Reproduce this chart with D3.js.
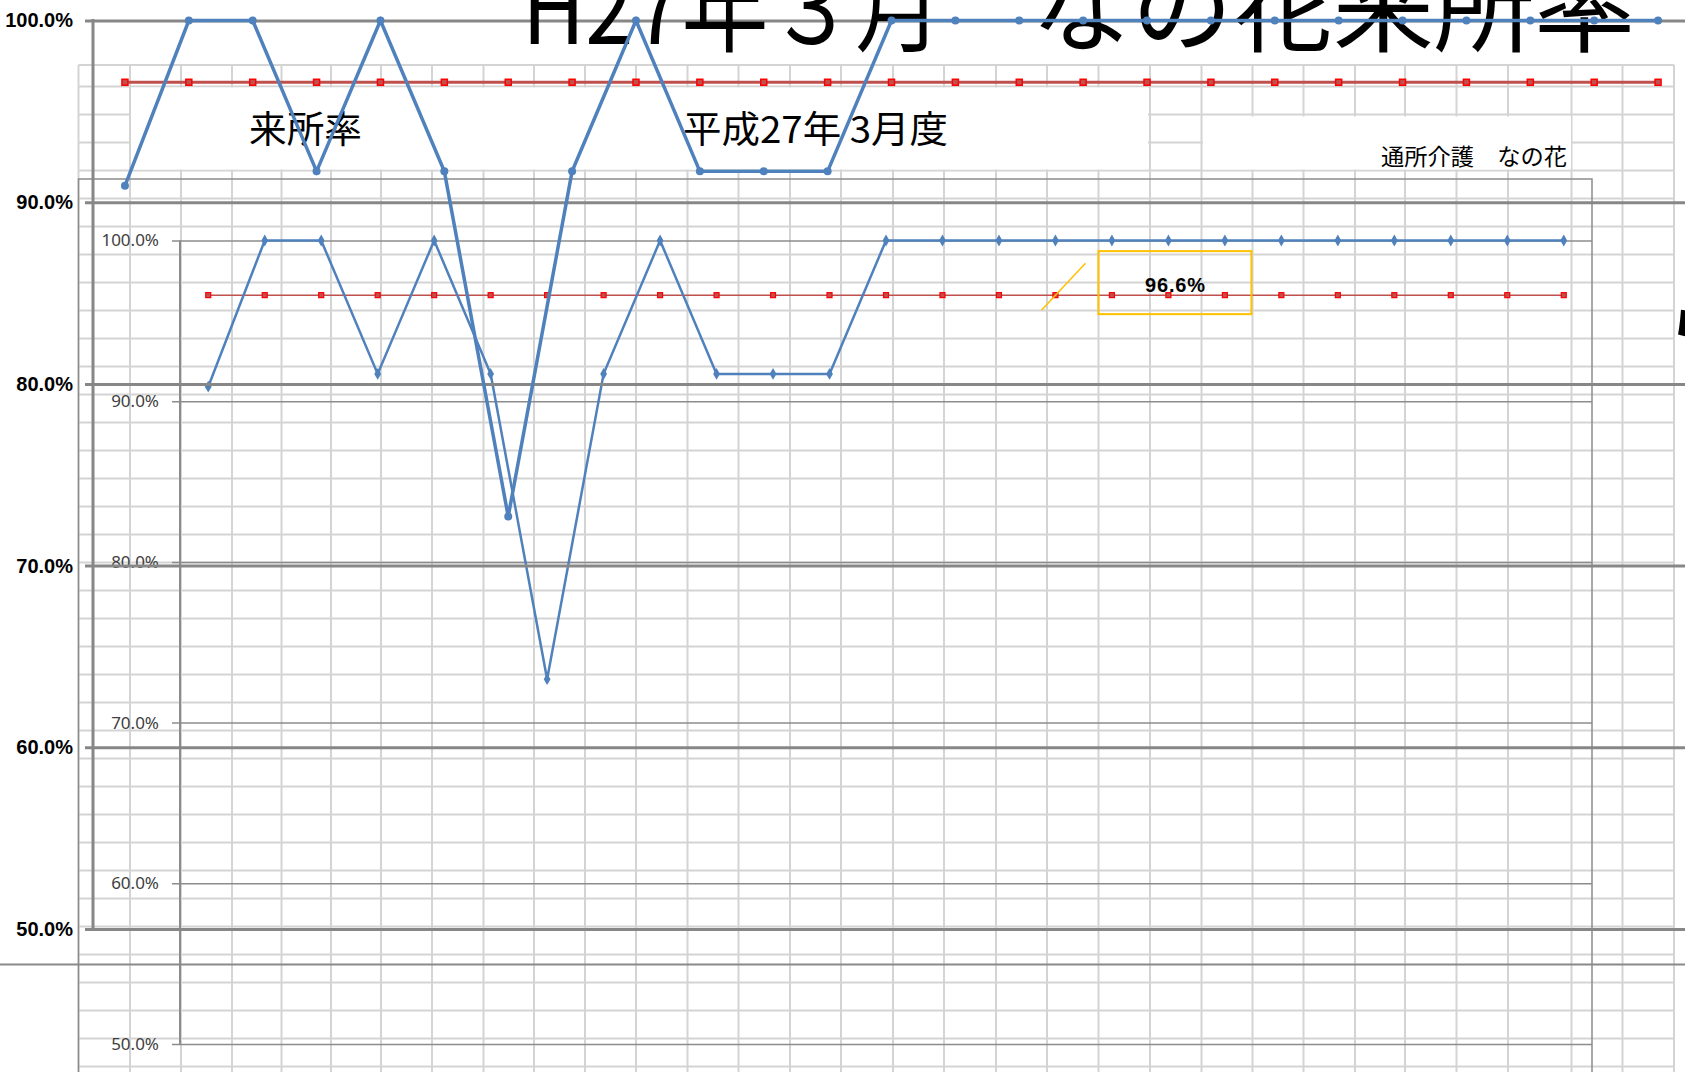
<!DOCTYPE html>
<html>
<head>
<meta charset="utf-8">
<script src="https://cdn.jsdelivr.net/npm/d3@7/dist/d3.min.js"></script>
<style>
  body { margin: 0; background: #fff; }
  svg { display: block; }
</style>
</head>
<body>
<div id="chart"></div>
<script>
// 来所率 data (25 days in March H27)
const days = ["1", "2", "3", "4", "5", "6", "7", "8", "9", "10", "11", "12", "13",
  "14", "15", "16", "17", "18", "19", "20", "21", "22", "23", "24", "25"];
const attendance = [0.909, 1.0, 1.0, 0.917, 1.0, 0.917, 0.727, 0.917, 1.0, 0.917, 0.917, 0.917,
  1.0, 1.0, 1.0, 1.0, 1.0, 1.0, 1.0, 1.0, 1.0, 1.0, 1.0, 1.0, 1.0];
const average = [0.966, 0.966, 0.966, 0.966, 0.966, 0.966, 0.966, 0.966, 0.966, 0.966, 0.966, 0.966,
  0.966, 0.966, 0.966, 0.966, 0.966, 0.966, 0.966, 0.966, 0.966, 0.966, 0.966, 0.966, 0.966];
const yTicks = [0.5, 0.6, 0.7, 0.8, 0.9, 1.0];
const averageLabel = "96.6%";

// spreadsheet column borders behind the charts
const sheetCols = [78.5, 130, 181, 232, 281.5, 331, 381, 432, 483.5, 534, 585, 636, 687.5, 738.5,
  790, 841, 893, 944, 996, 1047, 1098.5, 1150, 1201.5, 1252.5, 1303.5, 1355, 1405, 1456.5,
  1508, 1571.5, 1622.5, 1674];

const W = 1685, H = 1072;
const fmt = d3.format(".1%");
const cjk = "'Noto Sans CJK JP', 'Noto Sans', sans-serif";

const svg = d3.select("#chart").append("svg")
  .attr("width", W).attr("height", H);

// ---- sheet grid
const sheetRows = [65].concat(d3.range(86.5, H, 28));
const sheet = svg.append("g").attr("stroke", "#d4d4d4").attr("stroke-width", 2);
sheet.selectAll(".col").data(sheetCols).enter().append("line")
  .attr("x1", d => d).attr("x2", d => d).attr("y1", 65).attr("y2", H);
sheet.selectAll(".row").data(sheetRows).enter().append("line")
  .attr("x1", 78.5).attr("x2", 1674).attr("y1", d => d).attr("y2", d => d);

// text boxes (white, hide the cells)
svg.append("rect").attr("x", 131).attr("y", 87.5).attr("width", 1017).attr("height", 82).attr("fill", "#fff");
svg.append("rect").attr("x", 1203).attr("y", 116.5).attr("width", 368).attr("height", 53).attr("fill", "#fff");

svg.append("text").attr("x", 249).attr("y", 143).attr("font-family", cjk).attr("font-size", 37)
  .attr("textLength", 113).attr("lengthAdjust", "spacingAndGlyphs").text("来所率");
svg.append("text").attr("x", 683).attr("y", 143).attr("font-family", cjk).attr("font-size", 37)
  .attr("textLength", 265).attr("lengthAdjust", "spacingAndGlyphs").text("平成27年 3月度");
svg.append("text").attr("x", 1381).attr("y", 165).attr("font-family", cjk).attr("font-size", 23)
  .attr("textLength", 186).attr("lengthAdjust", "spacingAndGlyphs").text("通所介護　なの花");

// ---- small chart (behind)
const sx = d3.scaleBand().domain(days).range([180, 1592]);
const sy = d3.scaleLinear().domain([0.5, 1]).range([1044, 240.5]);
const scx = d => sx(d) + sx.bandwidth() / 2;

svg.append("path")
  .attr("d", `M78.5,${H + 5}V179H1592V${H + 5}`)
  .attr("fill", "none").attr("stroke", "#8c8c8c").attr("stroke-width", 1.5);

const sAxis = svg.append("g").attr("transform", "translate(180,0)")
  .call(d3.axisLeft(sy).tickValues(yTicks).tickFormat(fmt).tickSize(0).tickPadding(21));
sAxis.select(".domain").remove();
sAxis.selectAll(".tick line").attr("x1", -8).attr("x2", 1412)
  .attr("stroke", "#8c8c8c").attr("stroke-width", 1.5);
sAxis.selectAll(".tick text").attr("font-family", "'Noto Sans', sans-serif")
  .attr("font-size", 17).attr("fill", "#404040");
svg.append("line").attr("x1", 180).attr("x2", 180).attr("y1", sy(1)).attr("y2", sy(0.5))
  .attr("stroke", "#8c8c8c").attr("stroke-width", 2);

const sLine = d3.line().x((d, i) => scx(days[i])).y(d => sy(d));
svg.append("path").datum(average).attr("d", sLine)
  .attr("fill", "none").attr("stroke", "#c0504d").attr("stroke-width", 1.5);
svg.append("g").selectAll("rect").data(average).enter().append("rect")
  .attr("x", (d, i) => scx(days[i]) - 2.5).attr("y", d => sy(d) - 2.5)
  .attr("width", 5).attr("height", 5)
  .attr("fill", "#c0504d").attr("stroke", "#ff0000").attr("stroke-width", 1.2);
svg.append("path").datum(attendance).attr("d", sLine)
  .attr("fill", "none").attr("stroke", "#4f81bd").attr("stroke-width", 2.5);
svg.append("g").selectAll("path").data(attendance).enter().append("path")
  .attr("d", d3.symbol(d3.symbolDiamond, 40))
  .attr("transform", (d, i) => `translate(${scx(days[i])},${sy(d)})`)
  .attr("fill", "#4f81bd");

// data label for the average
const lx = scx(days[15]), ly = sy(average[15]);
svg.append("line").attr("x1", lx - 14).attr("y1", ly + 15).attr("x2", lx + 30).attr("y2", ly - 32)
  .attr("stroke", "#ffc000").attr("stroke-width", 1.5);
svg.append("rect").attr("x", lx + 43).attr("y", ly - 44).attr("width", 153).attr("height", 63)
  .attr("fill", "none").attr("stroke", "#ffc000").attr("stroke-width", 2);
svg.append("text").attr("x", lx + 120).attr("y", ly - 3).attr("text-anchor", "middle")
  .attr("font-family", "'Liberation Sans', Arial, sans-serif").attr("font-weight", "bold")
  .attr("font-size", 20).attr("letter-spacing", 0.8).text(averageLabel);

// stray line of another object
svg.append("line").attr("x1", 0).attr("x2", W).attr("y1", 964.5).attr("y2", 964.5)
  .attr("stroke", "#8a8a8a").attr("stroke-width", 2);

// ---- big chart (front)
const bx = d3.scaleBand().domain(days).range([93, 1690]);
const by = d3.scaleLinear().domain([0.5, 1]).range([929, 20.5]);
const bcx = d => bx(d) + bx.bandwidth() / 2;

const bAxis = svg.append("g").attr("transform", "translate(93,0)")
  .call(d3.axisLeft(by).tickValues(yTicks).tickFormat(fmt).tickSize(0).tickPadding(20));
bAxis.select(".domain").remove();
bAxis.selectAll(".tick line").attr("x1", -8).attr("x2", W)
  .attr("stroke", "#878787").attr("stroke-width", 3);
bAxis.selectAll(".tick text").attr("font-family", "'Liberation Sans', Arial, sans-serif")
  .attr("font-weight", "bold").attr("font-size", 20).attr("fill", "#000");
svg.append("line").attr("x1", 93).attr("x2", 93).attr("y1", by(1) - 1.5).attr("y2", by(0.5) + 1.5)
  .attr("stroke", "#878787").attr("stroke-width", 3);

// chart title, mostly above the page
svg.append("text").attr("x", 522).attr("y", 44).attr("font-family", cjk).attr("font-size", 100)
  .attr("textLength", 420).attr("lengthAdjust", "spacingAndGlyphs").text("H27年３月");
svg.append("text").attr("x", 1031).attr("y", 44).attr("font-family", cjk).attr("font-size", 100)
  .attr("textLength", 604).attr("lengthAdjust", "spacingAndGlyphs").text("なの花来所率");

const bLine = d3.line().x((d, i) => bcx(days[i])).y(d => by(d));
svg.append("path").datum(average).attr("d", bLine)
  .attr("fill", "none").attr("stroke", "#c0504d").attr("stroke-width", 3);
svg.append("g").selectAll("rect").data(average).enter().append("rect")
  .attr("x", (d, i) => bcx(days[i]) - 3).attr("y", d => by(d) - 3)
  .attr("width", 6).attr("height", 6)
  .attr("fill", "#c0504d").attr("stroke", "#ff0000").attr("stroke-width", 1.5);
svg.append("path").datum(attendance).attr("d", bLine)
  .attr("fill", "none").attr("stroke", "#4f81bd").attr("stroke-width", 3.5);
svg.append("g").selectAll("circle").data(attendance).enter().append("circle")
  .attr("cx", (d, i) => bcx(days[i])).attr("cy", d => by(d)).attr("r", 4)
  .attr("fill", "#4f81bd");

// text cut by the right edge
svg.append("text").attr("x", 1669).attr("y", 346).attr("font-family", cjk)
  .attr("font-weight", "bold").attr("font-size", 58).text("ら");
</script>
</body>
</html>
